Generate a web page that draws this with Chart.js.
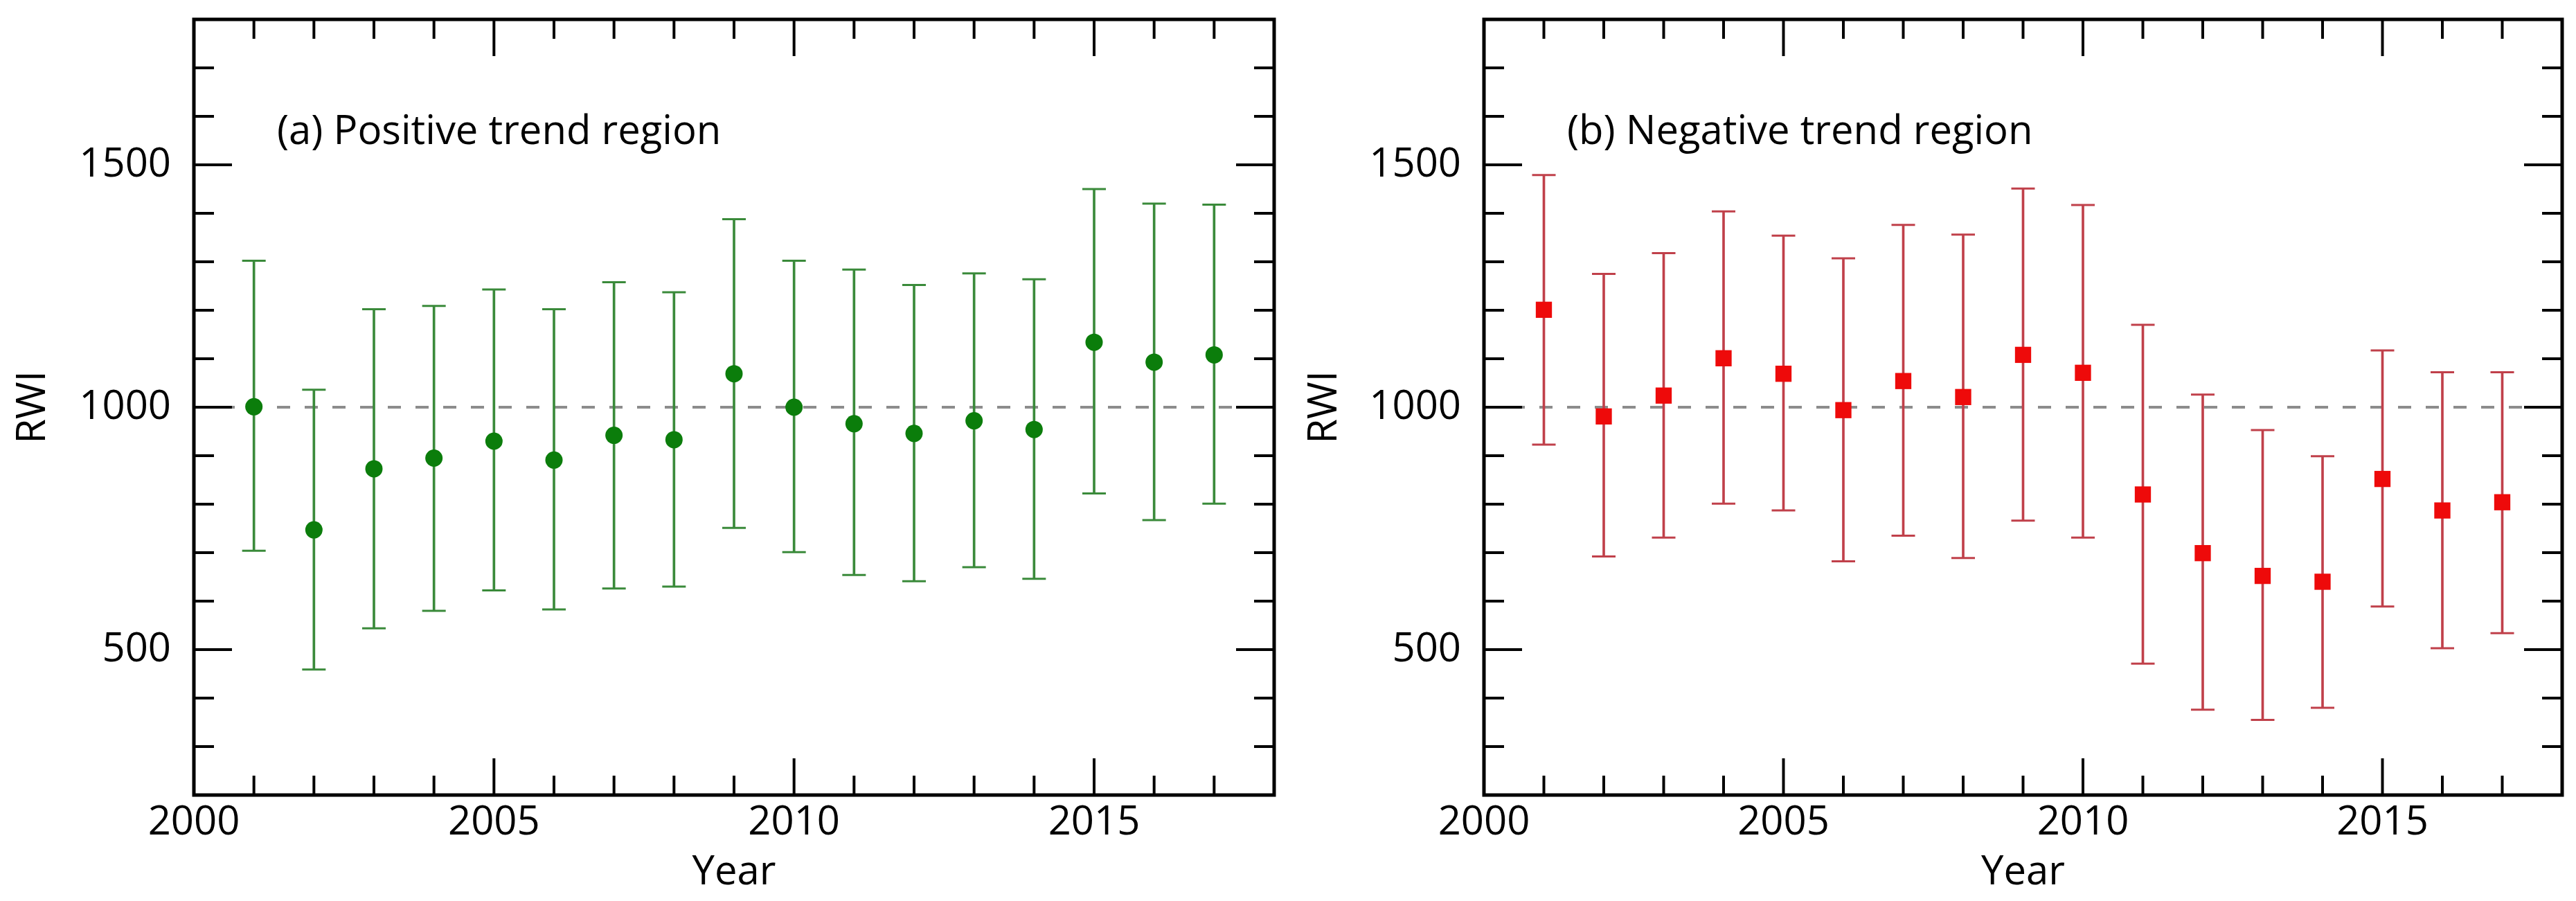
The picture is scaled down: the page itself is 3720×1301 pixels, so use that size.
<!DOCTYPE html>
<html>
<head>
<meta charset="utf-8">
<script src="https://cdn.jsdelivr.net/npm/chart.js@4.4.1/dist/chart.umd.min.js"></script>
<style>
  body { margin: 0; background: #fff; }
  .panel { position: absolute; top: 0; width: 1860px; height: 1301px; }
</style>
</head>
<body>
<div class="panel" style="left:0"><canvas id="chartA"></canvas></div>
<div class="panel" style="left:1860px"><canvas id="chartB"></canvas></div>
<script>
// data
const years = [2001, 2002, 2003, 2004, 2005, 2006, 2007, 2008, 2009, 2010, 2011, 2012, 2013, 2014, 2015, 2016, 2017];

const pos_mean  = [1001, 747, 873, 895, 930, 891, 942, 933, 1069, 1000, 966, 946, 972, 954, 1134, 1093, 1108];
const pos_upper = [1302, 1036, 1202, 1209, 1243, 1202, 1258, 1237, 1388, 1302, 1284, 1252, 1276, 1264, 1450, 1420, 1418];
const pos_lower = [704, 459, 544, 580, 622, 583, 626, 630, 751, 701, 654, 641, 670, 646, 822, 767, 801];

const neg_mean  = [1201, 981, 1024, 1101, 1069, 994, 1054, 1021, 1108, 1071, 820, 699, 652, 640, 852, 787, 804];
const neg_upper = [1479, 1275, 1318, 1404, 1354, 1307, 1376, 1356, 1451, 1417, 1170, 1026, 953, 899, 1117, 1072, 1072];
const neg_lower = [923, 692, 731, 801, 787, 682, 735, 689, 766, 731, 471, 376, 355, 380, 589, 503, 534];

const x_labels = [2000, 2005, 2010, 2015];
const y_labels = [500, 1000, 1500];
const ref_years = [2000, 2018];
const ref_value = 1000;

const FONT = "'Open Sans', 'Noto Sans', sans-serif";

// frame + inward ticks on all four sides
const frameTicks = {
  id: "frameTicks",
  afterDraw(chart) {
    const ctx = chart.ctx;
    const a = chart.chartArea;
    const xs = chart.scales.x;
    const ys = chart.scales.y;
    ctx.save();
    ctx.strokeStyle = "#000";
    ctx.lineWidth = 4;
    ctx.beginPath();
    for (const t of xs.ticks) {
      const px = xs.getPixelForValue(t.value);
      const len = x_labels.includes(t.value) ? 53 : 28;
      ctx.moveTo(px, a.bottom);
      ctx.lineTo(px, a.bottom - len);
      ctx.moveTo(px, a.top);
      ctx.lineTo(px, a.top + len);
    }
    for (const t of ys.ticks) {
      const py = ys.getPixelForValue(t.value);
      const len = y_labels.includes(t.value) ? 55 : 29;
      ctx.moveTo(a.left, py);
      ctx.lineTo(a.left + len, py);
      ctx.moveTo(a.right, py);
      ctx.lineTo(a.right - len, py);
    }
    ctx.stroke();
    ctx.lineWidth = 5;
    ctx.strokeRect(a.left, a.top, a.right - a.left, a.bottom - a.top);
    // panel caption
    const cap = chart.options.plugins.frameTicks.caption;
    ctx.fillStyle = "#000";
    ctx.font = "58px " + FONT;
    ctx.textBaseline = "alphabetic";
    ctx.textAlign = "left";
    ctx.fillText(cap, a.left + 120, a.top + 180);
    ctx.restore();
  },
};

function make_chart(id, mean, upper, lower, opts) {
  const whisker = years.map((y, i) => ({ x: y, y: [lower[i], upper[i]] }));
  const tops = years.map((y, i) => ({ x: y, y: upper[i] }));
  const bottoms = years.map((y, i) => ({ x: y, y: lower[i] }));
  const points = years.map((y, i) => ({ x: y, y: mean[i] }));
  const ref = ref_years.map((y) => ({ x: y, y: ref_value }));

  return new Chart(document.getElementById(id), {
    type: "scatter",
    data: {
      datasets: [
        {
          type: "bar",
          data: whisker,
          backgroundColor: opts.bar_color,
          borderWidth: 0,
          barThickness: 3,
          order: 2,
        },
        {
          data: tops,
          pointStyle: "line",
          pointRadius: 17,
          pointBorderWidth: 3,
          borderColor: opts.bar_color,
          order: 2,
        },
        {
          data: bottoms,
          pointStyle: "line",
          pointRadius: 17,
          pointBorderWidth: 3,
          borderColor: opts.bar_color,
          order: 2,
        },
        {
          type: "line",
          data: ref,
          borderColor: "#8c8c8c",
          borderWidth: 4,
          borderDash: [19, 21],
          pointRadius: 0,
          order: 3,
        },
        {
          data: points,
          pointStyle: opts.style,
          pointRadius: opts.radius,
          backgroundColor: opts.color,
          borderColor: opts.color,
          borderWidth: 0,
          order: 0,
        },
      ],
    },
    options: {
      responsive: true,
      maintainAspectRatio: false,
      devicePixelRatio: 1,
      animation: false,
      layout: { padding: { left: 0, right: opts.pad_right, top: 28, bottom: 0 } },
      plugins: {
        legend: { display: false },
        tooltip: { enabled: false },
        frameTicks: { caption: opts.caption },
      },
      scales: {
        x: {
          type: "linear",
          min: 2000,
          max: 2018,
          offset: false,
          grid: { display: false, drawTicks: false },
          border: { display: false },
          ticks: {
            stepSize: 1,
            autoSkip: false,
            maxRotation: 0,
            padding: 6,
            color: "#000",
            font: { family: FONT, size: 58 },
            callback: (v) => (x_labels.includes(v) ? String(v) : ""),
          },
          title: {
            display: true,
            text: "Year",
            color: "#000",
            font: { family: FONT, size: 58 },
            padding: { top: 0, bottom: 6 },
          },
          afterFit: (s) => {
            s.height = 153;
            s.paddingLeft = 0;
            s.paddingRight = 0;
          },
        },
        y: {
          min: 200,
          max: 1800,
          grid: { display: false, drawTicks: false },
          border: { display: false },
          ticks: {
            stepSize: 100,
            autoSkip: false,
            padding: 33,
            color: "#000",
            font: { family: FONT, size: 58 },
            callback: (v) => (y_labels.includes(v) ? String(v) : ""),
          },
          title: {
            display: true,
            text: "RWI",
            color: "#000",
            font: { family: FONT, size: 58 },
            padding: { top: opts.title_pad, bottom: 0 },
          },
          afterFit: (s) => {
            s.width = opts.axis_w;
            s.paddingTop = 0;
            s.paddingBottom = 0;
          },
        },
      },
    },
    plugins: [frameTicks],
  });
}

make_chart("chartA", pos_mean, pos_upper, pos_lower, {
  caption: "(a) Positive trend region",
  color: "#0b7d0b",
  bar_color: "#3a8a3a",
  style: "circle",
  radius: 12.5,
  axis_w: 280,
  pad_right: 20,
  title_pad: 14,
});

make_chart("chartB", neg_mean, neg_upper, neg_lower, {
  caption: "(b) Negative trend region",
  color: "#ee0a0a",
  bar_color: "#c0404a",
  style: "rect",
  radius: 16.5,
  axis_w: 283,
  pad_right: 14,
  title_pad: 19,
});
</script>
</body>
</html>
